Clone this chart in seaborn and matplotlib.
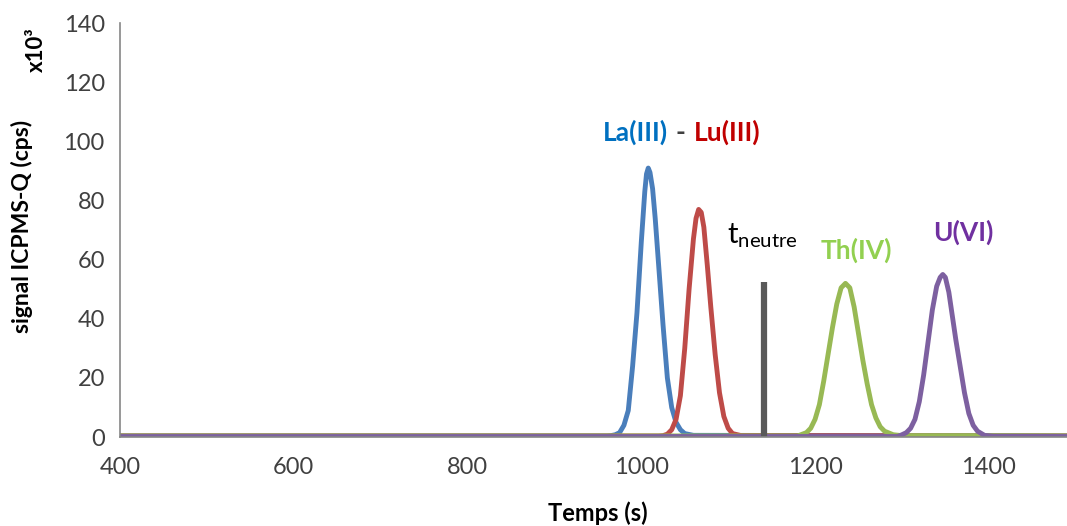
import pandas as pd
import matplotlib.pyplot as plt
import seaborn as sns

# chromatogram peaks (time in s, signal in x10^3 cps)
la_t = [400, 960, 965, 970, 975, 980, 985, 990, 995, 1000, 1004, 1006, 1008, 1010, 1013, 1016, 1020, 1025, 1030, 1035, 1040, 1045, 1050, 1060, 1490]
la_y = [0.4, 0.4, 0.5, 0.8, 1.5, 4, 9, 24, 42, 66, 83, 89, 91, 89.5, 84, 74, 58, 38, 20, 10, 5, 2.5, 1.2, 0.6, 0.4]

lu_t = [400, 1020, 1025, 1030, 1035, 1040, 1045, 1050, 1055, 1060, 1063, 1066, 1069, 1072, 1076, 1080, 1085, 1090, 1095, 1100, 1105, 1115, 1490]
lu_y = [0.4, 0.4, 0.5, 1, 2.5, 6, 14, 30, 50, 67, 74, 77, 76, 71, 58, 44, 28, 15, 7, 3, 1.2, 0.5, 0.4]

th_t = [400, 1180, 1190, 1195, 1200, 1205, 1210, 1215, 1220, 1225, 1230, 1235, 1240, 1245, 1250, 1255, 1260, 1265, 1270, 1275, 1280, 1290, 1300, 1400, 1490]
th_y = [0.4, 0.4, 1.5, 3, 6, 11, 19, 28, 37, 45, 50.5, 52, 50.5, 44, 35, 26, 18, 11, 6.5, 3.5, 2, 0.8, 0.5, 0.5, 0.4]

u_t = [400, 1295, 1300, 1305, 1310, 1315, 1320, 1325, 1330, 1335, 1340, 1344, 1347, 1350, 1354, 1358, 1362, 1367, 1372, 1377, 1382, 1387, 1395, 1405, 1490]
u_y = [0.2, 0.2, 0.8, 1.5, 3, 6, 12, 21, 32, 43, 51, 54, 55, 54, 49, 41, 33, 24, 15, 8, 4, 2, 0.6, 0.3, 0.2]

# t neutre marker
t_neutre = 1141
t_neutre_h = 52.5

series = [
    ('La(III)', la_t, la_y, '#4A7EBB'),
    ('Lu(III)', lu_t, lu_y, '#BE4B48'),
    ('Th(IV)', th_t, th_y, '#98B954'),
    ('U(VI)', u_t, u_y, '#7D60A0'),
]

sns.set_style('white')
plt.rcParams['font.family'] = ['Lato', 'DejaVu Sans']
plt.rcParams['mathtext.fontset'] = 'custom'
plt.rcParams['mathtext.rm'] = 'Lato'

fig = plt.figure(figsize=(10.67, 5.26), dpi=100)
ax = fig.add_axes([0.1125, 0.169, 0.8875, 0.787])

for name, t, y, col in series:
    df = pd.DataFrame({'Temps': t, 'signal': y})
    sns.lineplot(data=df, x='Temps', y='signal', color=col, linewidth=3.5, ax=ax)

ax.plot([t_neutre, t_neutre], [0, t_neutre_h], color='#595959', linewidth=4.5, solid_capstyle='butt')

ax.set_xlim(400, 1490)
ax.set_ylim(0, 140)
ax.set_xticks([400, 600, 800, 1000, 1200, 1400])
ax.set_yticks(range(0, 141, 20))
ax.set_xlabel('')
ax.set_ylabel('')

for side in ['top', 'right']:
    ax.spines[side].set_visible(False)
for side in ['left', 'bottom']:
    ax.spines[side].set_color('#868686')
    ax.spines[side].set_linewidth(1.2)
ax.tick_params(axis='both', direction='out', length=5, width=1.2, color='#868686',
               labelsize=17, labelcolor='#404040')
ax.tick_params(axis='x', pad=9)
ax.tick_params(axis='y', pad=6)

# peak labels
ax.text(956, 103, 'La(III)', color='#0070C0', fontsize=19, fontweight='bold', ha='left', va='center')
ax.text(1045, 103, '-', color='#404040', fontsize=19, fontweight='bold', ha='center', va='center')
ax.text(1060, 103, 'Lu(III)', color='#C00000', fontsize=19, fontweight='bold', ha='left', va='center')
ax.text(1099, 65.6, r'$\mathregular{t_{neutre}}$', color='black', fontsize=21, ha='left', va='baseline')
ax.text(1248, 63.2, 'Th(IV)', color='#92D050', fontsize=19, fontweight='bold', ha='center', va='center')
ax.text(1371, 69.3, 'U(VI)', color='#7030A0', fontsize=19, fontweight='bold', ha='center', va='center')

fig.text(0.021, 0.57, 'signal ICPMS-Q (cps)', rotation=90, fontsize=16.5, fontweight='bold',
         ha='center', va='center', color='black')
fig.text(0.034, 0.905, 'x10³', rotation=90, fontsize=16, fontweight='bold',
         ha='center', va='center', color='black')
fig.text(0.56, 0.025, 'Temps (s)', fontsize=17, fontweight='bold', ha='center', va='center', color='black')

fig.savefig('out.png', dpi=100)
